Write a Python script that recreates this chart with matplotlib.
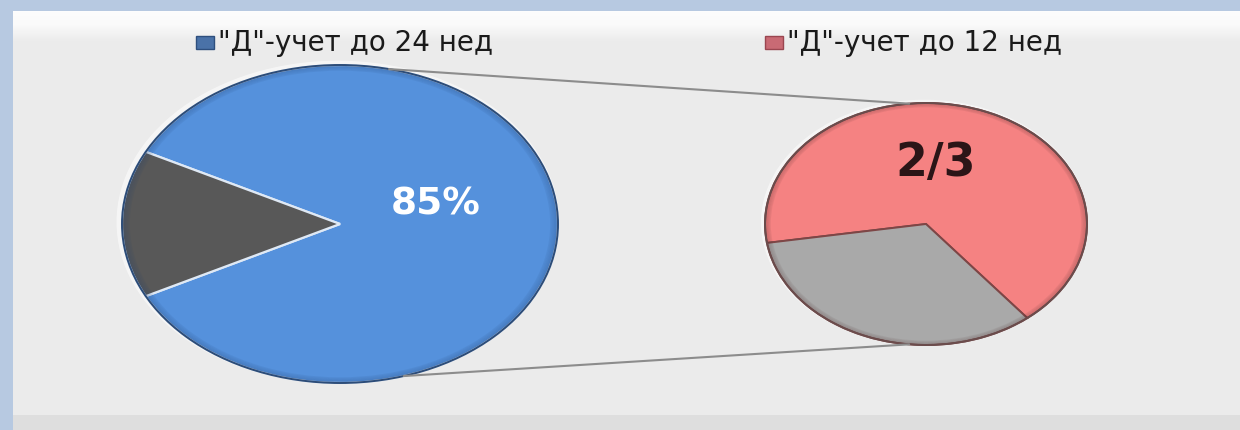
import numpy as np
import matplotlib
matplotlib.use("Agg")
import matplotlib.pyplot as plt
from matplotlib.patches import Ellipse, Rectangle, ConnectionPatch, Wedge

# pie of pie: left = registered before 24 weeks, right = of those, before 12 weeks
left_legend = '"Д"-учет до 24 нед'
right_legend = '"Д"-учет до 12 нед'
left_shares = [85, 15]          # percent registered before 24 weeks / rest
right_shares = [2, 1]           # thirds registered before 12 weeks / rest
left_label = "85%"
right_label = "2/3"

left_colors = ["#5591dc", "#585858"]
right_colors = ["#f58282", "#a9a9a9"]

W, H = 1240, 430
fig = plt.figure(figsize=(W / 100, H / 100), dpi=100)

# background: blue frame, light panel with a white top band, gray strip at the bottom
bg = np.zeros((H, W, 3))
bg[:, :] = np.array([183, 201, 225]) / 255
rows = np.arange(H)
panel = np.interp(rows, [11, 24, 40, 414], [253, 250, 236, 235]) / 255
bg[11:415, 13:, :] = panel[11:415, None, None]
bg[415:, 13:] = np.array([222, 222, 222]) / 255
ax_bg = fig.add_axes([0, 0, 1, 1])
ax_bg.imshow(bg, aspect="auto", extent=[0, W, H, 0])
ax_bg.set_axis_off()


def pie_axes(cx, cy, rx, ry, pad=1.25):
    ax = fig.add_axes([(cx - rx * pad) / W, (H - cy - ry * pad) / H,
                       2 * rx * pad / W, 2 * ry * pad / H])
    return ax


def finish(ax, pad=1.25):
    ax.set_aspect("auto")
    ax.set_xlim(-pad, pad)
    ax.set_ylim(-pad, pad)
    ax.set_axis_off()


def rim(ax, color, edge):
    # soft dark band just inside the outline
    for i in range(6):
        r = 1 - 0.006 * i
        ax.add_patch(Wedge((0, 0), r, 0, 360, width=0.006, facecolor=color,
                           edgecolor="none", alpha=0.28 - 0.04 * i, zorder=3))
    ax.add_patch(Ellipse((0, 0), 2, 2, fill=False, edgecolor=edge, lw=1.4, zorder=4))


# left pie
ax1 = pie_axes(340, 224, 218, 159)
ax1.add_patch(Ellipse((-0.01, 0.012), 2.03, 2.03, facecolor="white", edgecolor="none",
                      alpha=0.55, zorder=0))
ax1.pie(left_shares, colors=left_colors, startangle=207, counterclock=True,
        wedgeprops=dict(edgecolor="#dfe9f5", linewidth=1.6, zorder=2))
rim(ax1, "#1f3f6e", "#2c4c78")
ax1.text(0.44, 0.12, left_label, color="white", fontsize=27, fontweight="bold",
         ha="center", va="center", zorder=5)
finish(ax1)

# right pie
ax2 = pie_axes(926, 224, 161, 121)
ax2.add_patch(Ellipse((-0.01, 0.012), 2.03, 2.03, facecolor="white", edgecolor="none",
                      alpha=0.55, zorder=0))
ax2.pie(right_shares, colors=right_colors, startangle=309, counterclock=True,
        wedgeprops=dict(edgecolor="#7d4646", linewidth=1.4, zorder=2))
rim(ax2, "#4a2a2a", "#6a4c4c")
ax2.text(0.06, 0.5, right_label, color="#2b1517", fontsize=33, fontweight="bold",
         ha="center", va="center", zorder=5)
finish(ax2)

# connector lines between the two pies
for a1, a2 in [(77, 96), (-73, -96)]:
    t1, t2 = np.radians(a1), np.radians(a2)
    con = ConnectionPatch(xyA=(np.cos(t1), np.sin(t1)), coordsA=ax1.transData,
                          xyB=(np.cos(t2), np.sin(t2)), coordsB=ax2.transData,
                          color="#8c8c8c", lw=1.5, zorder=1)
    fig.add_artist(con)

# legend entries
for (x0, text, face, shade) in [(196, left_legend, "#4a72a8", "#2e4f7e"),
                                (765, right_legend, "#c96a74", "#9a4650")]:
    fig.add_artist(Rectangle((x0 / W, 1 - 49 / H), 18 / W, 13 / H,
                             transform=fig.transFigure, facecolor=face,
                             edgecolor=shade, lw=1.0))
    fig.text((x0 + 22) / W, 1 - 43 / H, text, fontsize=20, color="#1a1a1a",
             ha="left", va="center", family="DejaVu Sans")

fig.savefig("out.png", dpi=100)
plt.close()
